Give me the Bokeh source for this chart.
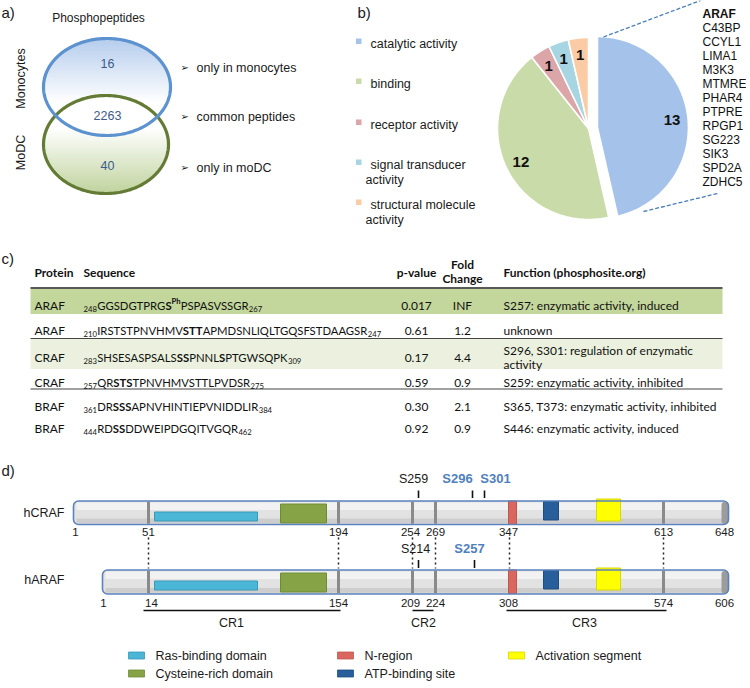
import os, glob, subprocess
import numpy as np
from bokeh.plotting import figure
from bokeh.models import Range1d
from bokeh.core.properties import value
from bokeh.embed import file_html
from bokeh.resources import INLINE

# ---------------- data ----------------
# a) Venn diagram of phosphopeptides
venn_title = "Phosphopeptides"
venn_groups = ["Monocytes", "MoDC"]
venn_counts = ["16", "2263", "40"]
venn_notes = ["only in monocytes", "common peptides", "only in moDC"]

# b) molecular function pie
pie_labels = ["catalytic activity", "binding", "receptor activity",
              "signal transducer\nactivity", "structural molecule\nactivity"]
pie_values = [13, 12, 1, 1, 1]
pie_colors = ["#a5c3ea", "#c9dba8", "#dca6a8", "#a7d5e2", "#fbcba5"]
catalytic_proteins = ["ARAF", "C43BP", "CCYL1", "LIMA1", "M3K3", "MTMRE", "PHAR4",
                      "PTPRE", "RPGP1", "SG223", "SIK3", "SPD2A", "ZDHC5"]

# c) table (lower case letter = phosphosite, printed bold)
table_header = ["Protein", "Sequence", "p-value", "Fold\nChange", "Function (phosphosite.org)"]
table_protein = ["ARAF", "ARAF", "CRAF", "CRAF", "BRAF", "BRAF"]
table_start = [248, 210, 283, 257, 361, 444]
table_end = [267, 247, 309, 275, 384, 462]
table_seq = ["GGSDGTPRGsPSPASVSSGR",
             "IRSTSTPNVHMVsttAPMDSNLIQLTGQSFSTDAAGSR",
             "SHSESASPSALSssPNNLsPTGWSQPK",
             "QRstsTPNVHMVSTTLPVDSR",
             "DRsssAPNVHINTIEPVNIDDLIR",
             "RDssDDWEIPDGQITVGQR"]
table_sup = ["Ph", "", "", "", "", ""]
table_pvalue = ["0.017", "0.61", "0.17", "0.59", "0.30", "0.92"]
table_fold = ["INF", "1.2", "4.4", "0.9", "2.1", "0.9"]
table_function = ["S257: enzymatic activity, induced",
                  "unknown",
                  "S296, S301: regulation of enzymatic\nactivity",
                  "S259:  enzymatic activity, inhibited",
                  "S365, T373: enzymatic activity, inhibited",
                  "S446: enzymatic activity, induced"]
table_fill = ["#c3d69b", None, "#ebf1de", None, None, None]

# d) domain structure
craf_name, araf_name = "hCRAF", "hARAF"
craf_residues = [1, 51, 194, 254, 269, 347, 613, 648]
araf_residues = [1, 14, 154, 209, 224, 308, 574, 606]
craf_sites = ["S259", "S296", "S301"]
craf_sites_blue = [False, True, True]
araf_sites = ["S214", "S257"]
araf_sites_blue = [False, True]
cr_names = ["CR1", "CR2", "CR3"]
domain_names = ["Ras-binding domain", "Cysteine-rich domain", "N-region",
                "ATP-binding site", "Activation segment"]
domain_colors = ["#4cb6d6", "#86a446", "#d9675f", "#285e9a", "#ffff00"]
domain_edges = ["#3a98b8", "#6f8c34", "#c25550", "#1f4d80", "#d8d800"]

# ---------------- layout (picture pixels) ----------------
W, H = 746, 684
p = figure(width=W, height=H, x_range=Range1d(0, W), y_range=Range1d(H, 0),
           output_backend="svg", toolbar_location=None, min_border=0)
p.axis.visible = False
p.grid.visible = False
p.outline_line_color = None
p.background_fill_color = "white"
p.border_fill_color = "white"

ARIAL = "Liberation Sans"
INK = "#1a1a1a"
TINK = "#111111"


def txt(x, y, s, size=12.0, font=ARIAL, color=INK, bold=False, align="left",
        baseline="middle", angle=0.0):
    p.text(x=[x], y=[y], text=[s], text_font=value(font), text_font_size=f"{size:.2f}px",
           text_font_style="bold" if bold else "normal", text_color=color,
           text_align=align, text_baseline=baseline, angle=angle)


# ---- text measuring (for the rich-text sequences) ----
_paths = {}


def font_path(family, bold):
    key = (family, bold)
    if key in _paths:
        return _paths[key]
    style = "Bold" if bold else "Regular"
    path = None
    try:
        out = subprocess.run(["fc-match", "-f", "%{file}", f"{family}:style={style}"],
                             capture_output=True, text=True, timeout=10).stdout.strip()
        if out and os.path.exists(out) and family.split()[0].lower() in os.path.basename(out).lower():
            path = out
    except Exception:
        path = None
    if path is None:
        for d in ["/usr/share/fonts", "/usr/local/share/fonts",
                  os.path.expanduser("~/.fonts"), os.path.expanduser("~/.local/share/fonts")]:
            hits = glob.glob(os.path.join(d, "**", f"{family.replace(' ', '')}*-{style}.ttf"), recursive=True)
            if hits:
                path = hits[0]
                break
    _paths[key] = path
    return path


_fonts = {}
MEASURED = True


def text_w(s, family, size, bold=False):
    global MEASURED
    path = font_path(family, bold)
    if path:
        try:
            from PIL import ImageFont
            if path not in _fonts:
                _fonts[path] = ImageFont.truetype(path, 100)
            return _fonts[path].getlength(s) * size / 100.0
        except Exception:
            pass
    MEASURED = False
    w = 0.0
    for ch in s:
        if ch.isupper():
            w += 0.66
        elif ch.isdigit():
            w += 0.58
        elif ch in " ,.:":
            w += 0.26
        else:
            w += 0.50
    return w * size * (1.05 if bold else 1.0)


# ======================= a) =======================
txt(1, 12, "a)", size=15)
txt(98, 17, venn_title, size=12, align="center")


def mix(c1, c2, t):
    a = np.array([int(c1[i:i + 2], 16) for i in (1, 3, 5)], float)
    b = np.array([int(c2[i:i + 2], 16) for i in (1, 3, 5)], float)
    c = a + (b - a) * t
    return "#%02x%02x%02x" % tuple(int(round(v)) for v in c)


def gradient_ellipse(cx, cy, a, b, y_from, y_to, c_from, c_to):
    ys = np.arange(cy - b, cy + b, 1.0)
    L, R, T, B, C = [], [], [], [], []
    for y in ys:
        ym = y + 0.5
        h = a * np.sqrt(max(0.0, 1 - ((ym - cy) / b) ** 2))
        t = float(np.clip((ym - y_from) / (y_to - y_from), 0, 1))
        L.append(cx - h); R.append(cx + h); T.append(y); B.append(y + 1.1)
        C.append(mix(c_from, c_to, t))
    p.quad(left=L, right=R, top=T, bottom=B, fill_color=C, line_color=None)


def ellipse_line(cx, cy, a, b, color, lw):
    t = np.linspace(0, 2 * np.pi, 240)
    p.line(cx + a * np.cos(t), cy + b * np.sin(t), line_color=color, line_width=lw)


v1 = (106.5, 86.5, 63.5, 48.5)
v2 = (105.5, 144.0, 62.5, 49.0)
gradient_ellipse(*v1, 42, 102, "#a2c0e8", "#ffffff")
gradient_ellipse(*v2, 128, 192, "#ffffff", "#abc57f")
ellipse_line(*v2, "#637b34", 3.2)
ellipse_line(*v1, "#5b92cf", 3.2)

for yy, s in zip([63, 115, 165], venn_counts):
    txt(107, yy, s, size=12.5, color="#3c5b8a", align="center")
txt(20, 78, venn_groups[0], size=12.5, align="center", angle=np.pi / 2)
txt(20, 152, venn_groups[1], size=12.5, align="center", angle=np.pi / 2)
for yy, s in zip([67, 116, 167], venn_notes):
    txt(180, yy, "\u27a2", size=10, font="DejaVu Sans")
    txt(196, yy, s, size=12.5)

# ======================= b) =======================
txt(357, 12, "b)", size=15)
leg_y = [43, 83, 124, 164, 204]
for c, lab, yy in zip(pie_colors, pie_labels, leg_y):
    p.quad(left=[355.5], right=[361], top=[yy - 5], bottom=[yy + 0.5], fill_color=c, line_color=None)
    lines = lab.split("\n")
    txt(370, yy, lines[0], size=12.5)
    if len(lines) > 1:
        txt(365, yy + 15, lines[1], size=12.5)

R = 91.0
rest_c = (588.0, 128.0)
total = float(sum(pie_values))
angles = np.cumsum([0] + pie_values) / total * 2 * np.pi
mid0 = (angles[0] + angles[1]) / 2
explode = 9.0
for i, (v, c) in enumerate(zip(pie_values, pie_colors)):
    a0, a1 = angles[i], angles[i + 1]
    cx, cy = rest_c
    if i == 0:
        cx += explode * np.sin(mid0)
        cy -= explode * np.cos(mid0)
    th = np.linspace(a0, a1, 120)
    xs = [cx] + list(cx + R * np.sin(th))
    ys = [cy] + list(cy - R * np.cos(th))
    p.patch(xs, ys, fill_color=c, line_color="white", line_width=1.6)
    am = (a0 + a1) / 2
    txt(cx + 75 * np.sin(am), cy - 75 * np.cos(am) + 1, str(v), size=15, bold=True,
        align="center", color="#111111")

# dashed connectors from the catalytic slice to the protein list
bc = (rest_c[0] + explode * np.sin(mid0), rest_c[1] - explode * np.cos(mid0))
p.line([bc[0] + 6, 700], [bc[1] - R + 0.5, 0], line_color="#4a7ebb", line_dash="4 2", line_width=1.3)
p.line([643, 717], [211, 193], line_color="#4a7ebb", line_dash="4 2", line_width=1.3)
for k, name in enumerate(catalytic_proteins):
    txt(702, 13 + k * 14.08, name, size=12, bold=(k == 0), color="#111111")

# ======================= c) =======================
txt(1, 258, "c)", size=15)
TF = "Lato"
fit_ref = "S365, T373: enzymatic activity, inhibited"
wref = text_w(fit_ref, TF, 100)
T_SIZE = float(np.clip(213.0 / wref * 100.0, 10.0, 12.5)) if MEASURED else 11.0
SUB_F = 0.68


def seq_segments(seq):
    segs, cur, cur_b = [], "", None
    for ch in seq:
        b = ch.islower()
        if cur and b != cur_b:
            segs.append((cur.upper(), cur_b))
            cur = ""
        cur += ch
        cur_b = b
    if cur:
        segs.append((cur.upper(), cur_b))
    return segs


def seq_width(i, size):
    w = text_w(str(table_start[i]), TF, size * SUB_F) + text_w(str(table_end[i]), TF, size * SUB_F)
    for seg, bold in seq_segments(table_seq[i]):
        w += text_w(seg, TF, size, bold)
    if table_sup[i]:
        w += text_w(table_sup[i], TF, size * SUB_F, True)
    return w


# the longest sequence row spans ~297 px in the picture
S_SIZE = float(np.clip(297.0 / seq_width(1, 100.0) * 100.0, 9.5, 12.5)) if MEASURED else 10.5
TX0, TX1 = 30, 722
col_prot, col_seq, col_p, col_fc, col_fn = 34, 83, 416, 462, 503

# header
txt(col_prot, 272, table_header[0], size=T_SIZE, font=TF, bold=True, color=TINK)
txt(col_seq, 272, table_header[1], size=T_SIZE, font=TF, bold=True, color=TINK)
txt(col_p, 272, table_header[2], size=T_SIZE, font=TF, bold=True, align="center", color=TINK)
fc_lines = table_header[3].split("\n")
txt(col_fc, 264, fc_lines[0], size=T_SIZE, font=TF, bold=True, align="center", color=TINK)
txt(col_fc, 278, fc_lines[1], size=T_SIZE, font=TF, bold=True, align="center", color=TINK)
txt(col_fn, 272, table_header[4], size=T_SIZE, font=TF, bold=True, color=TINK)

row_y = [301, 326, 353, 378, 402, 424]
row_band = [(288.5, 313.5), None, (338.5, 368.5), None, None, None]
for i in range(len(table_protein)):
    if table_fill[i] is not None:
        t0, t1 = row_band[i]
        p.quad(left=[TX0], right=[TX1], top=[t0], bottom=[t1], fill_color=table_fill[i], line_color=None)
p.segment(x0=[TX0, TX0, TX0], y0=[287.5, 338, 388.5], x1=[TX1, TX1, TX1], y1=[287.5, 338, 388.5],
          line_color=["#222222", "#444444", "#444444"], line_width=[1.6, 1.2, 1.2])

for i in range(len(table_protein)):
    yb = row_y[i] + 4.2
    sub = S_SIZE * SUB_F
    txt(col_prot, yb, table_protein[i], size=T_SIZE, font=TF, baseline="alphabetic", color=TINK)
    x = col_seq
    s = str(table_start[i])
    txt(x, yb + 3, s, size=sub, font=TF, baseline="alphabetic", color=TINK)
    x += text_w(s, TF, sub) + 0.3
    sup_done = False
    for seg, bold in seq_segments(table_seq[i]):
        txt(x, yb, seg, size=S_SIZE, font=TF, bold=bold, baseline="alphabetic", color=TINK)
        x += text_w(seg, TF, S_SIZE, bold)
        if bold and table_sup[i] and not sup_done:
            txt(x, yb - 4.5, table_sup[i], size=sub, font=TF, bold=True, baseline="alphabetic", color=TINK)
            x += text_w(table_sup[i], TF, sub, True)
            sup_done = True
    s = str(table_end[i])
    txt(x + 0.3, yb + 3, s, size=sub, font=TF, baseline="alphabetic", color=TINK)
    txt(col_p, yb, table_pvalue[i], size=T_SIZE, font=TF, align="center", baseline="alphabetic", color=TINK)
    txt(col_fc, yb, table_fold[i], size=T_SIZE, font=TF, align="center", baseline="alphabetic", color=TINK)
    fl = table_function[i].split("\n")
    if len(fl) == 1:
        txt(col_fn, yb, fl[0], size=T_SIZE, font=TF, baseline="alphabetic", color=TINK)
    else:
        txt(col_fn, yb - 7, fl[0], size=T_SIZE, font=TF, baseline="alphabetic", color=TINK)
        txt(col_fn, yb + 7, fl[1], size=T_SIZE, font=TF, baseline="alphabetic", color=TINK)

# ======================= d) =======================
txt(1, 470, "d)", size=15)
bound_x = [None, 148, 338, 412, 435, 508, 663, 728]
divider_idx = [1, 2, 3, 4, 6]
dom_x = [(154, 257), (280, 326), (508, 516), (543, 558), (596, 620)]
dom_dy = [(11, 20), (3, 22), (0, 23.5), (0.5, 19), (-2, 20)]
craf_bar = (73.0, 728.0, 500.5, 524.0)
araf_bar = (102.0, 728.0, 569.5, 593.5)


def draw_bar(x0, x1, y0, y1):
    p.quad(left=[x0], right=[x1], top=[y0], bottom=[y1], fill_color="#e2e2e2",
           line_color=None, border_radius=5)
    p.quad(left=[x0 + 3], right=[x1 - 4], top=[y0 + 1.5], bottom=[y0 + 9],
           fill_color="#f2f2f2", line_color=None)
    p.quad(left=[x0 + 3], right=[x1 - 4], top=[y1 - 6], bottom=[y1 - 1.2],
           fill_color="#cdcdcd", line_color=None)
    p.quad(left=[x1 - 7], right=[x1 - 0.5], top=[y0 + 1], bottom=[y1 - 0.5],
           fill_color="#9c9c9c", line_color=None, border_radius=3)
    for k in divider_idx:
        p.segment(x0=[bound_x[k]], y0=[y0 + 0.8], x1=[bound_x[k]], y1=[y1 - 0.8],
                  line_color="#8a8a8a", line_width=3)
    for (a, b), (d0, d1), c, e in zip(dom_x, dom_dy, domain_colors, domain_edges):
        p.quad(left=[a], right=[b], top=[y0 + d0], bottom=[y0 + d1], fill_color=c,
               line_color=e, line_width=1)
    p.quad(left=[x0], right=[x1], top=[y0], bottom=[y1], fill_color=None,
           line_color="#5b82bd", line_width=1.6, border_radius=5)


draw_bar(*craf_bar)
draw_bar(*araf_bar)
txt(64, 512, craf_name, size=12.5, align="right")
txt(64, 579, araf_name, size=12.5, align="right")

# residue numbers
label_x_craf = [craf_bar[0] + 2] + bound_x[1:-1] + [724]
label_x_araf = [araf_bar[0] + 1] + [151] + bound_x[2:-1] + [724]
label_x_craf[3] = 410
label_x_araf[3] = 410
for xx, r in zip(label_x_craf, craf_residues):
    txt(xx, 531, str(r), size=11.5, align="center")
for xx, r in zip(label_x_araf, araf_residues):
    txt(xx, 602, str(r), size=11.5, align="center")

# dotted connectors
for k in [1, 2, 3, 4, 5, 6]:
    xx = bound_x[k] + (1 if k == 5 else 0)
    p.segment(x0=[xx], y0=[537], x1=[xx], y1=[568], line_color="#222222",
              line_dash="2 3", line_width=1.5)

# phosphosites
craf_tick_x = [418, 472, 484]
craf_lab_x = [413, 457, 495]
for s, blue, tx, lx in zip(craf_sites, craf_sites_blue, craf_tick_x, craf_lab_x):
    p.segment(x0=[tx], y0=[490], x1=[tx], y1=[497.5], line_color="#111111", line_width=1.6)
    txt(lx, 478, s, size=13 if blue else 12.5, bold=blue, color="#4f81bd" if blue else INK,
        align="center")
araf_tick_x = [418, 474]
araf_lab_x = [415, 469]
for s, blue, tx, lx in zip(araf_sites, araf_sites_blue, araf_tick_x, araf_lab_x):
    p.segment(x0=[tx], y0=[559.5], x1=[tx], y1=[567.5], line_color="#111111", line_width=1.6)
    txt(lx, 548, s, size=13 if blue else 12.5, bold=blue, color="#4f81bd" if blue else INK,
        align="center")

# conserved regions
cr_span = [(143, 340), (412, 433), (506, 666)]
cr_lab_x = [231, 423, 584]
for (a, b), n, lx in zip(cr_span, cr_names, cr_lab_x):
    p.segment(x0=[a], y0=[610], x1=[b], y1=[610], line_color="#111111", line_width=1.5)
    txt(lx, 622, n, size=12.5, align="center")

# legend
leg_pos = [(128, 655), (128, 673), (337, 655), (337, 673), (508, 655)]
for (lx, ly), n, c, e in zip(leg_pos, domain_names, domain_colors, domain_edges):
    p.quad(left=[lx], right=[lx + 16], top=[ly - 3.5], bottom=[ly + 3.5], fill_color=c,
           line_color=e, line_width=0.8)
    txt(lx + 27, ly, n, size=12.5)

open("out.html", "w").write(file_html(p, INLINE))
